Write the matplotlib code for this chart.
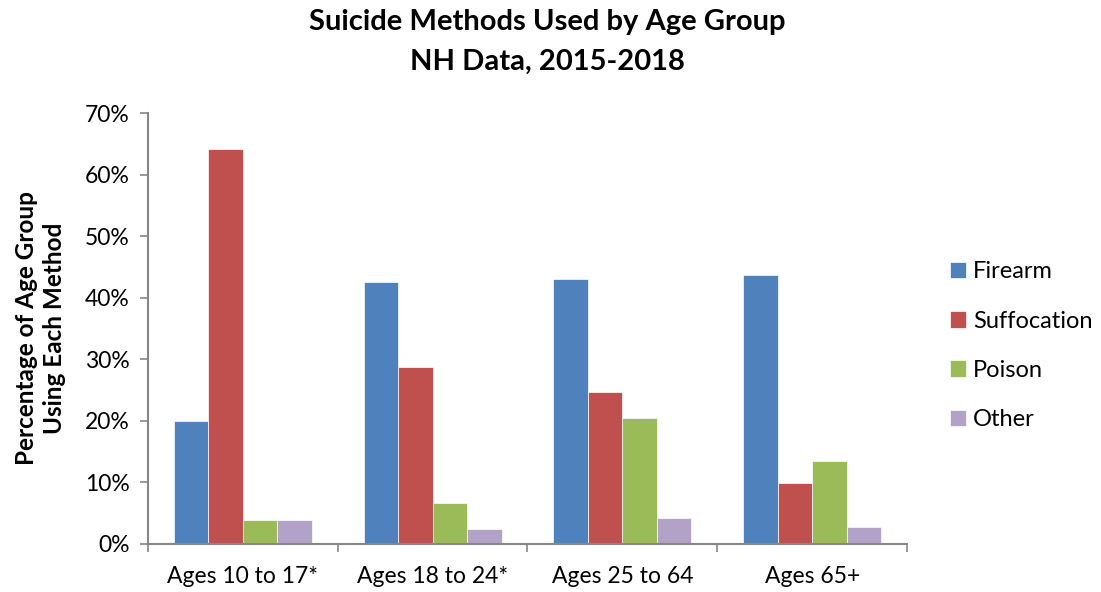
import matplotlib
matplotlib.use("Agg")
import matplotlib.pyplot as plt
import numpy as np
from matplotlib.ticker import PercentFormatter, FixedLocator

categories = ["Ages 10 to 17*", "Ages 18 to 24*", "Ages 25 to 64", "Ages 65+"]
series_names = ["Firearm", "Suffocation", "Poison", "Other"]
firearm = [20.0, 42.6, 43.0, 43.7]
suffocation = [64.1, 28.7, 24.7, 9.9]
poison = [3.9, 6.6, 20.4, 13.4]
other = [3.9, 2.4, 4.3, 2.7]
colors = ["#4F81BD", "#C0504D", "#9BBB59", "#B3A2C7"]

plt.rcParams['font.family'] = ['Lato', 'DejaVu Sans']

fig = plt.figure(figsize=(11.01, 5.92), dpi=100)
ax = fig.add_axes([0.1344, 0.0811, 0.6894, 0.728])

values = [firearm, suffocation, poison, other]
x = np.arange(len(categories))
bw = 0.182
for i, (name, vals, c) in enumerate(zip(series_names, values, colors)):
    ax.bar(x + (i - 1.5) * bw, vals, width=bw, color=c, label=name,
           edgecolor="white", linewidth=0.5)

ax.set_xlim(-0.5, len(categories) - 0.5)
ax.set_ylim(0, 70)
ax.set_yticks(np.arange(0, 71, 10))
ax.yaxis.set_major_formatter(PercentFormatter(decimals=0))
ax.set_xticks(x)
ax.set_xticklabels(categories)
ax.xaxis.set_minor_locator(FixedLocator(np.arange(-0.5, len(categories), 1)))
ax.tick_params(axis='x', which='major', length=0, labelsize=16.5, pad=16)
ax.tick_params(axis='x', which='minor', length=6, width=1.2, color="#868686", direction='out')
ax.tick_params(axis='y', length=6, width=1.2, color="#868686", labelsize=16.5, pad=7)

for s in ['top', 'right']:
    ax.spines[s].set_visible(False)
for s in ['left', 'bottom']:
    ax.spines[s].set_color("#868686")
    ax.spines[s].set_linewidth(1.5)

ax.set_ylabel("Percentage of Age Group\nUsing Each Method", fontsize=17.5,
              fontweight='bold', labelpad=14, linespacing=1.25)

fig.suptitle("Suicide Methods Used by Age Group\nNH Data, 2015-2018", x=0.497, y=0.985,
             fontsize=21, fontweight='bold', linespacing=1.65)

leg = ax.legend(loc='center left', bbox_to_anchor=(1.028, 0.46), frameon=False,
                fontsize=17, handlelength=0.7, handleheight=0.7,
                handletextpad=0.3, labelspacing=1.2)

fig.savefig("out.png", dpi=100)
